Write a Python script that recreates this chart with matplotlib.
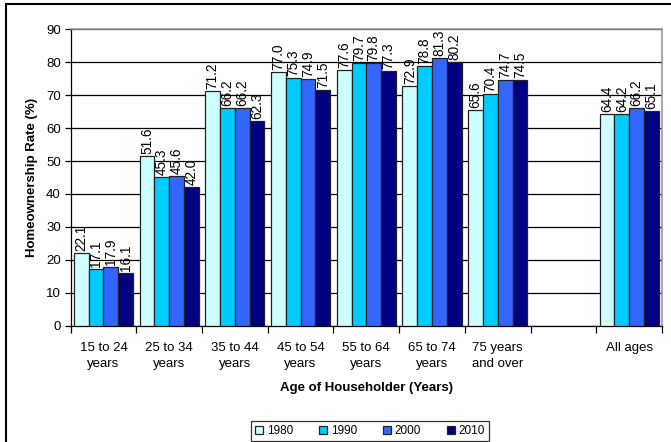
import numpy as np
import matplotlib
matplotlib.use('Agg')
from matplotlib import pyplot as plt
from matplotlib.lines import Line2D

plt.rcParams['font.family'] = ['Liberation Sans', 'DejaVu Sans']

# data
categories = ['15 to 24\nyears', '25 to 34\nyears', '35 to 44\nyears', '45 to 54\nyears',
              '55 to 64\nyears', '65 to 74\nyears', '75 years\nand over', '', 'All ages']
years = ['1980', '1990', '2000', '2010']
rate1980 = [22.1, 51.6, 71.2, 77.0, 77.6, 72.9, 65.6, np.nan, 64.4]
rate1990 = [17.1, 45.3, 66.2, 75.3, 79.7, 78.8, 70.4, np.nan, 64.2]
rate2000 = [17.9, 45.6, 66.2, 74.9, 79.8, 81.3, 74.7, np.nan, 66.2]
rate2010 = [16.1, 42.0, 62.3, 71.5, 77.3, 80.2, 74.5, np.nan, 65.1]
series = [rate1980, rate1990, rate2000, rate2010]
colors = ['#CCFFFF', '#00CCFF', '#3366FF', '#000080']

fig = plt.figure(figsize=(6.71, 4.42), dpi=100)
ax = fig.add_axes([0.1052, 0.2631, 0.8814, 0.6706])

x = np.arange(len(categories))
w = 0.225
for i in range(4):
    pos = x - 1.5 * w + i * w
    vals = np.array(series[i], dtype=float)
    ax.bar(pos, vals, width=w, color=colors[i], edgecolor='#222222', linewidth=0.9,
           label=years[i], zorder=3)
    for p, v in zip(pos, vals):
        if not np.isnan(v):
            ax.text(p, v + 0.6, '%.1f' % v, rotation=90, ha='center', va='bottom',
                    fontsize=9.8, zorder=4)

ax.set_xlim(-0.5, len(categories) - 0.5)
ax.set_ylim(0, 90)
ax.set_yticks(np.arange(0, 91, 10))
ax.yaxis.grid(True, color='black', linewidth=0.9, zorder=0)
ax.set_axisbelow(True)

ax.set_xticks(x)
ax.set_xticklabels(categories, fontsize=9.5, linespacing=1.45)
ax.set_xticks(np.arange(-0.5, len(categories), 1), minor=True)
ax.tick_params(axis='x', which='major', length=0, pad=12)
ax.tick_params(axis='x', which='minor', length=5, width=0.9, direction='out')
ax.tick_params(axis='y', length=4, width=0.9, labelsize=9.5, pad=3)

for s in ['top', 'right']:
    ax.spines[s].set_color('#999999')
    ax.spines[s].set_linewidth(1.2)
ax.spines['left'].set_linewidth(0.9)
ax.spines['bottom'].set_linewidth(0.9)

ax.set_ylabel('Homeownership Rate (%)', fontsize=9.5, fontweight='bold', labelpad=6)
ax.set_xlabel('Age of Householder (Years)', fontsize=9.5, fontweight='bold', labelpad=8)

leg = ax.legend(loc='center', bbox_to_anchor=(370 / 671, 1 - 431 / 442),
                bbox_transform=fig.transFigure, ncol=4, fontsize=8.5, frameon=True,
                fancybox=False, edgecolor='black', handlelength=0.7, handleheight=0.7,
                handletextpad=0.3, columnspacing=2.2, borderpad=0.35)
leg.get_frame().set_linewidth(0.9)

# outer chart border
fig.add_artist(Line2D([6 / 671, 1], [1 - 4 / 442, 1 - 4 / 442], color='black', linewidth=1.5))
fig.add_artist(Line2D([6 / 671, 6 / 671], [0, 1 - 4 / 442], color='black', linewidth=1.5))

fig.savefig('out.png', dpi=100)
